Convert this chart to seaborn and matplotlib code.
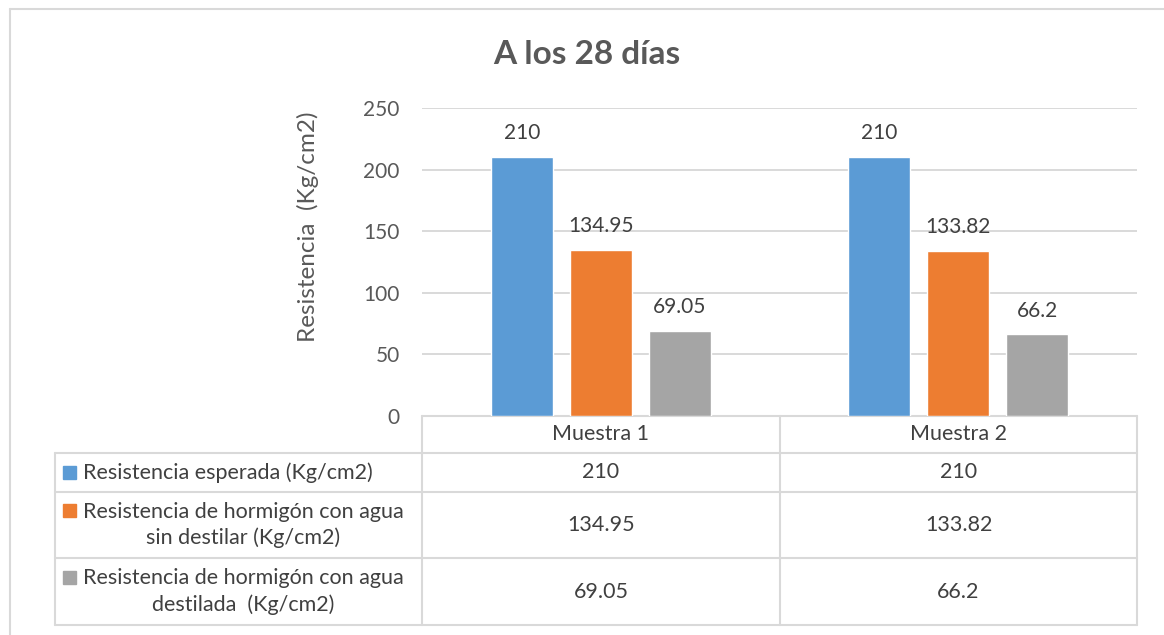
import matplotlib
matplotlib.use("Agg")
import matplotlib.pyplot as plt
import seaborn as sns
import pandas as pd
from matplotlib.patches import Rectangle

# ---------------- data ----------------
title = "A los 28 días"
y_label = "Resistencia  (Kg/cm2)"
categories = ["Muestra 1", "Muestra 2"]
series_names = [
    "Resistencia esperada (Kg/cm2)",
    "Resistencia de hormigón con agua\nsin destilar (Kg/cm2)",
    "Resistencia de hormigón con agua\ndestilada  (Kg/cm2)",
]
esperada = [210, 210]
sin_destilar = [134.95, 133.82]
destilada = [69.05, 66.2]
y_ticks = [0, 50, 100, 150, 200, 250]
colors = ["#5B9BD5", "#ED7D31", "#A5A5A5"]

series_values = [esperada, sin_destilar, destilada]

rows = []
for name, vals in zip(series_names, series_values):
    for cat, v in zip(categories, vals):
        rows.append({"cat": cat, "series": name, "value": v})
df = pd.DataFrame(rows)

# ---------------- style ----------------
sns.set_theme(style="white")
plt.rcParams["font.family"] = ["Lato", "DejaVu Sans"]
TXT = "#595959"
DARK = "#404040"
LINE = "#D9D9D9"
TFS = 15.5

W, H = 1164, 635
fig = plt.figure(figsize=(W / 100, H / 100), dpi=100)


def fx(px):
    return px / W


def fy(py):
    return 1 - py / H


# background axes in pixel coordinates for table / frame
tax = fig.add_axes([0, 0, 1, 1])
tax.set_xlim(0, W)
tax.set_ylim(H, 0)
tax.axis("off")
tax.set_zorder(0)

# main plot axes
ax = fig.add_axes([fx(422), fy(416), fx(1137) - fx(422), fy(108) - fy(416)])
ax.set_zorder(1)
ax.patch.set_alpha(0)

sns.barplot(data=df, x="cat", y="value", hue="series", hue_order=series_names,
            order=categories, palette=colors, saturation=1, width=0.662,
            gap=0.215, legend=False, ax=ax)

for cont, vals in zip(ax.containers, series_values):
    ax.bar_label(cont, labels=[f"{v:g}" for v in vals], padding=10,
                 fontsize=15, color=DARK)

ax.set_xlim(-0.5, 1.5)
ax.set_ylim(0, 250)
ax.set_yticks(y_ticks)
ax.yaxis.grid(True, color=LINE, linewidth=1.4)
ax.set_axisbelow(True)
for s in ax.spines.values():
    s.set_visible(False)
ax.tick_params(axis="y", length=0, pad=16, labelsize=15, labelcolor=TXT)
ax.tick_params(axis="x", length=0, labelbottom=False)
ax.set_xlabel("")
ax.set_ylabel(y_label, fontsize=17.5, color=TXT)
ax.yaxis.set_label_coords((308 - 422) / 715, (416 - 227) / 308)
ax.yaxis.label.set_va("center")

fig.text(fx(587), fy(54), title, ha="center", va="center", fontsize=24,
         fontweight="bold", color=TXT)

# outer frame
tax.plot([10, 10], [9, H], color=LINE, lw=1.5)
tax.plot([10, W], [9, 9], color=LINE, lw=1.5)

# data table
row_edges = [416, 453, 492, 558, 625]
col_edges = [55, 422, 780, 1137]
tax.plot([422, 1137], [416, 416], color=LINE, lw=1.5)
for y in row_edges[1:]:
    tax.plot([55, 1137], [y, y], color=LINE, lw=1.5)
tax.plot([55, 55], [453, 625], color=LINE, lw=1.5)
for x in col_edges[1:]:
    tax.plot([x, x], [416, 625], color=LINE, lw=1.5)

col_centers = [(col_edges[i] + col_edges[i + 1]) / 2 for i in (1, 2)]
for cx, cat in zip(col_centers, categories):
    tax.text(cx, (416 + 453) / 2, cat, ha="center", va="center",
             fontsize=TFS, color=DARK)

for i, (name, vals, col) in enumerate(zip(series_names, series_values, colors)):
    y0, y1 = row_edges[i + 1], row_edges[i + 2]
    yc = (y0 + y1) / 2
    nlines = name.count("\n") + 1
    first_line_y = yc - (nlines - 1) * 14.5
    tax.add_patch(Rectangle((63, first_line_y - 6.5), 13, 13, color=col))
    tax.text(83, yc, name, ha="left", va="center", multialignment="center",
             fontsize=TFS, color=DARK, linespacing=1.35)
    for cx, v in zip(col_centers, vals):
        tax.text(cx, yc, f"{v:g}", ha="center", va="center", fontsize=TFS,
                 color=DARK)

fig.savefig("out.png", dpi=100)
